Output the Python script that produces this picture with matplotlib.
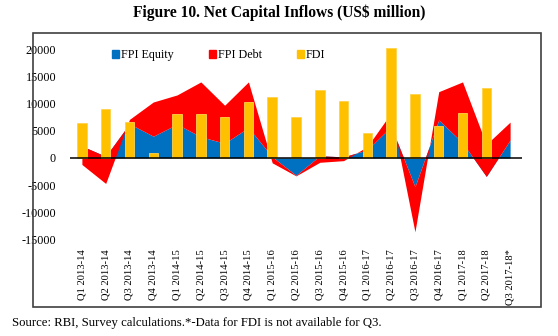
import numpy as np
import matplotlib
matplotlib.use("Agg")
import matplotlib.pyplot as plt
from matplotlib.patches import Patch, Rectangle

plt.rcParams["font.family"] = ["Liberation Serif", "DejaVu Serif"]

# ---- data (US$ million) ---------------------------------------------------
QUARTERS = ["Q1 2013-14", "Q2 2013-14", "Q3 2013-14", "Q4 2013-14",
            "Q1 2014-15", "Q2 2014-15", "Q3 2014-15", "Q4 2014-15",
            "Q1 2015-16", "Q2 2015-16", "Q3 2015-16", "Q4 2015-16",
            "Q1 2016-17", "Q2 2016-17", "Q3 2016-17", "Q4 2016-17",
            "Q1 2017-18", "Q2 2017-18", "Q3 2017-18*"]
FPI_EQUITY = [2200, 300, 6300, 4000, 6200, 3900, 2700, 5600, 200, -3200,
              400, 200, 1500, 5800, -5300, 7000, 2800, -3400, 3300]
FPI_DEBT = [-3400, -5000, 800, 6300, 5400, 10100, 7000, 8400, -1100, -100,
            -1200, -700, 600, 2500, -8300, 5200, 11200, 5900, 3300]
# FDI for Q3 2017-18 not yet published
FDI = [6400, 9000, 6600, 900, 8000, 8000, 7600, 10300, 11300, 7500,
       12600, 10500, 4600, 20300, 11700, 5900, 8200, 12800, np.nan]

Y_TICKS = [-15000, -10000, -5000, 0, 5000, 10000, 15000, 20000]

C_EQ = "#0070C0"
C_DEBT = "#FF0000"
C_FDI = "#FFC000"

fig = plt.figure(figsize=(5.58, 3.36), dpi=100)
ax = fig.add_axes([70 / 558, 96.6 / 336, 452 / 558, 195.5 / 336])

x = np.arange(len(QUARTERS))
eq = np.array(FPI_EQUITY, dtype=float)
debt_top = eq + np.array(FPI_DEBT, dtype=float)

# stacked areas: equity from zero, debt stacked on top of equity
ax.fill_between(x, 0, eq, color=C_EQ, lw=0, zorder=2)
ax.fill_between(x, eq, debt_top, color=C_DEBT, lw=0, zorder=3)
ax.bar(x, FDI, width=0.4, color=C_FDI, edgecolor="#FFD24D", lw=0.6,
       zorder=4, clip_on=False)
ax.axhline(0, color="black", lw=1.1, zorder=5)

ax.set_xlim(-0.5, len(QUARTERS) - 0.5)
ax.set_ylim(-15000, 21000)
ax.set_yticks(Y_TICKS)
ax.set_yticklabels([str(v) for v in Y_TICKS], fontsize=8.7)
ax.set_xticks(x)
ax.set_xticklabels(QUARTERS, rotation=90, fontsize=7.6, va="top", ha="center")
ax.tick_params(axis="both", length=0)
ax.tick_params(axis="x", pad=7)
ax.tick_params(axis="y", pad=10)
for s in ax.spines.values():
    s.set_visible(False)
ax.patch.set_alpha(0)

handles = [Patch(color=C_EQ, label="FPI Equity"),
           Patch(color=C_DEBT, label="FPI Debt"),
           Patch(color=C_FDI, label="FDI")]
fig.legend(handles=handles, loc="center left", bbox_to_anchor=(112 / 558, 1 - 55 / 336),
           ncol=3, frameon=False, fontsize=8.7, handlelength=0.6, handleheight=0.6,
           handletextpad=0.15, columnspacing=2.9, borderpad=0, borderaxespad=0)

# outer chart border
fig.patches.append(Rectangle((33 / 558, 29 / 336), 508 / 558, 274 / 336,
                             transform=fig.transFigure, fill=False,
                             edgecolor="#404040", lw=1.2))

fig.text(0.5, 1 - 13 / 336, "Figure 10. Net Capital Inflows (US$ million)",
         ha="center", va="center", fontsize=11.2, fontweight="bold")
fig.text(12 / 558, 1 - 323 / 336,
         "Source: RBI, Survey calculations.*-Data for FDI is not available for Q3.",
         ha="left", va="center", fontsize=9.2)

fig.savefig("out.png", dpi=100)
